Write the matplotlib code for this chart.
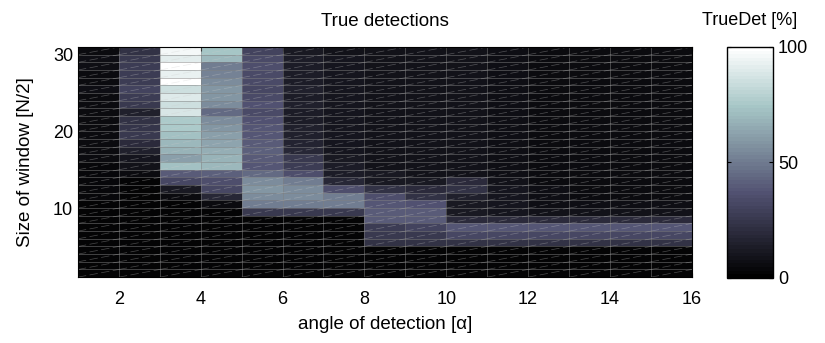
import numpy as np
import matplotlib.pyplot as plt
from matplotlib.collections import LineCollection

plt.rcParams['font.family'] = ['Liberation Sans', 'DejaVu Sans']

# cell edges: angle of detection (x) and window size (y)
angle_edges = np.arange(1, 17)
window_edges = np.arange(1, 32)

# true detections [%], one list per angle column, window 1..30 (bottom to top)
det_a1 = [3, 3, 3, 3, 3, 3, 3, 3, 3, 3, 4, 4, 4, 4, 4,
          5, 5, 6, 6, 6, 6, 5, 6, 6, 7, 6, 6, 7, 7, 6]
det_a2 = [3, 3, 3, 3, 3, 3, 3, 3, 3, 3, 3, 3, 3, 6, 9,
          10, 15, 20, 25, 24, 22, 15, 25, 28, 30, 27, 28, 27, 25, 22]
det_a3 = [3, 3, 3, 3, 3, 3, 3, 3, 3, 3, 6, 12, 32, 40, 72,
          62, 68, 70, 72, 76, 76, 88, 85, 90, 85, 100, 93, 100, 92, 96]
det_a4 = [3, 3, 3, 3, 3, 3, 3, 3, 3, 6, 18, 32, 35, 42, 70,
          68, 66, 64, 62, 58, 55, 45, 56, 58, 58, 55, 52, 50, 70, 74]
det_a5 = [3, 3, 3, 3, 3, 3, 3, 3, 25, 50, 55, 58, 55, 45, 38,
          40, 42, 40, 38, 38, 36, 33, 36, 34, 32, 34, 33, 35, 33, 30]
det_a6 = [3, 3, 3, 3, 3, 3, 3, 3, 25, 50, 55, 55, 50, 35, 28,
          25, 18, 16, 15, 15, 14, 14, 15, 14, 15, 14, 14, 13, 13, 12]
det_a7 = [3, 3, 3, 3, 3, 3, 3, 3, 25, 50, 50, 35, 18, 14, 13,
          12, 10, 10, 10, 10, 10, 10, 10, 10, 10, 10, 10, 10, 10, 9]
det_a8 = [3, 3, 3, 3, 22, 25, 28, 40, 40, 38, 35, 22, 12, 12, 9,
          9, 9, 9, 9, 9, 9, 9, 9, 9, 9, 9, 9, 9, 9, 9]
det_a9 = [3, 3, 3, 3, 22, 26, 30, 40, 40, 36, 22, 20, 12, 8, 8,
          8, 8, 8, 8, 8, 8, 8, 8, 8, 8, 8, 8, 8, 8, 8]
det_a10 = [3, 3, 3, 3, 22, 32, 38, 20, 12, 12, 15, 22, 20, 8, 8,
           8, 8, 8, 8, 8, 8, 8, 8, 8, 8, 8, 8, 8, 8, 8]
det_a11 = [3, 3, 3, 3, 22, 32, 38, 20, 10, 10, 10, 10, 8, 7, 7,
           7, 7, 7, 7, 7, 7, 7, 7, 7, 7, 7, 7, 7, 7, 7]
det_a12 = [3, 3, 3, 3, 22, 32, 38, 20, 8, 7, 7, 7, 6, 6, 6,
           6, 6, 6, 6, 6, 6, 6, 6, 6, 6, 6, 6, 6, 6, 6]
det_a13 = [3, 3, 3, 3, 22, 32, 38, 20, 8, 7, 6, 6, 6, 6, 6,
           6, 6, 6, 6, 6, 6, 6, 6, 6, 6, 6, 6, 6, 6, 6]
det_a14 = [3, 3, 3, 3, 22, 32, 38, 20, 8, 7, 6, 6, 6, 6, 6,
           6, 6, 6, 6, 6, 6, 6, 6, 6, 6, 6, 6, 6, 6, 6]
det_a15 = [3, 3, 3, 3, 22, 32, 38, 20, 8, 7, 6, 6, 5, 5, 5,
           5, 5, 5, 5, 5, 5, 5, 5, 5, 5, 5, 5, 5, 5, 5]

Z = np.array([det_a1, det_a2, det_a3, det_a4, det_a5, det_a6, det_a7, det_a8,
              det_a9, det_a10, det_a11, det_a12, det_a13, det_a14, det_a15]).T

fig = plt.figure(figsize=(8.25, 3.43), dpi=100)
ax = fig.add_axes([0.0945, 0.192, 0.744, 0.671])
cmap = plt.get_cmap('bone', 64)
mesh = ax.pcolormesh(angle_edges, window_edges, Z, cmap=cmap, vmin=0, vmax=100,
                     shading='flat')

# cell edges + the diagonal seams of the original render
for xe in angle_edges:
    ax.axvline(xe, color='0.5', lw=0.5, alpha=0.7)
for ye in window_edges:
    ax.axhline(ye, color='0.5', lw=0.5, alpha=0.7)
segs = []
for i in range(len(angle_edges) - 1):
    for j in range(len(window_edges) - 1):
        segs.append([(angle_edges[i], window_edges[j]),
                     (angle_edges[i + 1], window_edges[j + 1])])
ax.add_collection(LineCollection(segs, colors='0.8', linewidths=0.5,
                                 linestyles=(0, (12, 5)), alpha=0.35))

ax.set_xlim(1, 16)
ax.set_ylim(1, 31)
ax.set_xticks(np.arange(2, 17, 2))
ax.set_yticks([10, 20, 30])
ax.tick_params(direction='in', length=3, labelsize=13, top=True, right=True)
ax.tick_params(axis='x', pad=10)
ax.set_xlabel('angle of detection [α]', fontsize=13.5, labelpad=6)
ax.set_ylabel('Size of window [N/2]', fontsize=13.5, labelpad=14)
ax.set_title('True detections', fontsize=13.5, pad=15)

cax = fig.add_axes([0.881, 0.19, 0.056, 0.673])
cb = fig.colorbar(mesh, cax=cax, ticks=[0, 50, 100])
cb.outline.set_linewidth(1.0)
cax.tick_params(direction='in', length=3, labelsize=13, left=True)
cax.set_title('TrueDet [%]', fontsize=13, pad=16)

fig.savefig('out.png', dpi=100)
